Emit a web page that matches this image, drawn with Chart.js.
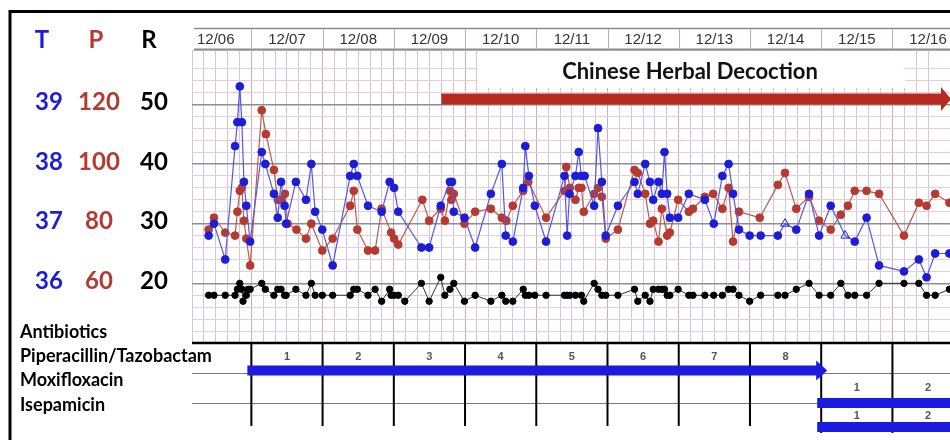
<!DOCTYPE html>
<html>
<head>
<meta charset="utf-8">
<script src="https://cdn.jsdelivr.net/npm/chart.js@4.4.1/dist/chart.umd.min.js"></script>
<style>
  html, body { margin: 0; padding: 0; background: #fff; }
  canvas { display: block; }
</style>
</head>
<body>
<canvas id="vitals" width="950" height="440"></canvas>
<script>
// time axis is in hours counted from 12/06 00:00
const dates = ['12/06', '12/07', '12/08', '12/09', '12/10', '12/11', '12/12', '12/13', '12/14', '12/15', '12/16'];
const tTicks = [39, 38, 37, 36];
const pTicks = [120, 100, 80, 60];
const rTicks = [50, 40, 30, 20];

// temperature (blue)
const tTime = [9.6, 11.4, 15.2, 18.5, 19.3, 20.1, 20.8, 21.5, 22.3, 23.6,
  27.5, 28.7, 31.6, 32.9, 34.0, 35.2, 35.7, 39.0, 42.4, 44.2,
  45.5, 47.9, 51.4, 57.3, 58.5, 59.7, 63.3, 67.9, 70.6, 72.1,
  73.5, 81.3, 83.9, 87.8, 90.9, 91.6, 92.2, 95.8, 99.4, 104.7,
  108.4, 109.7, 112.1, 115.6, 116.3, 117.5, 119.5, 123.3, 129.5, 130.4,
  131.2, 133.2, 134.3, 135.2, 136.3, 139.5, 140.8, 142.1, 143.4, 147.5,
  153.1, 154.2, 156.7, 158.3, 159.4, 161.2, 162.3, 163.2, 164.1, 165.0,
  167.8, 171.4, 176.8, 179.8, 182.7, 184.8, 186.3, 188.3, 191.9, 195.6,
  201.4, 203.8, 207.6, 211.9, 215.3, 219.2, 224.1, 227.3, 231.3, 235.5,
  243.9, 248.9, 251.5, 254.4, 259.2];
const tTemp = [36.8, 37.0, 36.4, 38.3, 38.7, 39.3, 38.7, 37.7, 37.3, 36.7,
  38.2, 38.0, 37.5, 37.1, 37.7, 37.3, 37.0, 37.7, 37.4, 38.0,
  37.2, 36.9, 36.3, 37.8, 38.0, 37.8, 37.3, 37.2, 37.7, 37.6,
  37.2, 36.6, 36.6, 37.3, 37.7, 37.7, 37.2, 37.1, 36.6, 37.5,
  38.0, 36.8, 36.7, 37.6, 38.3, 37.8, 37.3, 36.7, 37.8, 36.8,
  37.5, 37.8, 38.2, 37.8, 37.8, 37.3, 38.6, 37.7, 36.8, 37.3,
  37.7, 37.5, 38.0, 37.7, 37.4, 37.7, 37.5, 38.2, 37.5, 37.1,
  37.1, 37.5, 37.4, 37.0, 37.8, 38.0, 37.5, 36.9, 36.8, 36.8,
  36.8, 37.0, 36.9, 37.5, 36.8, 37.3, 36.8, 36.7, 37.1, 36.3,
  36.2, 36.4, 36.1, 36.5, 36.5];
// readings drawn as open triangles
const tOpenMarks = [203.8, 224.1];

// pulse (red)
const pTime = [9.6, 11.4, 15.2, 18.5, 19.3, 20.1, 20.8, 21.5, 22.3, 23.6,
  27.5, 28.9, 31.6, 32.9, 34.0, 35.3, 36.2, 39.2, 42.4, 44.2,
  47.9, 51.4, 57.3, 58.5, 59.7, 63.3, 65.7, 67.9, 71.1, 72.1,
  73.5, 81.6, 83.9, 87.8, 89.2, 90.9, 91.4, 92.2, 95.8, 99.4,
  104.7, 108.4, 109.9, 112.1, 115.6, 117.3, 123.3, 129.5, 130.1, 131.3,
  133.2, 134.3, 135.2, 136.0, 139.5, 140.8, 142.1, 143.4, 147.5, 153.1,
  154.2, 156.7, 158.3, 159.4, 161.2, 162.3, 164.1, 165.0, 167.8, 171.4,
  172.8, 176.8, 179.6, 182.7, 184.8, 186.3, 188.3, 195.3, 201.4, 203.8,
  207.6, 211.9, 215.3, 219.2, 222.6, 225.0, 227.3, 231.3, 235.5, 243.9,
  248.9, 251.5, 254.4, 259.2];
const pRate = [78, 82, 77, 76, 84, 91, 92, 81, 75, 66,
  118, 110, 98, 88, 88, 90, 80, 78, 75, 80,
  71, 75, 86, 91, 78, 71, 71, 85, 77, 75,
  73, 88, 81, 85, 81, 91, 88, 90, 80, 84,
  85, 82, 81, 86, 91, 94, 82, 91, 99, 92,
  88, 92, 92, 84, 90, 92, 89, 75, 78, 98,
  97, 90, 80, 81, 74, 85, 76, 77, 88, 84,
  85, 89, 90, 85, 92, 74, 84, 82, 93, 97,
  85, 89, 81, 78, 83, 86, 91, 91, 90, 76,
  87, 86, 90, 87];

// respiration (black)
const rTime = [9.6, 11.4, 15.2, 18.5, 19.3, 20.1, 20.8, 21.2, 22.3, 22.9,
  23.6, 27.5, 28.7, 31.6, 32.9, 34.0, 35.2, 35.7, 39.0, 42.4,
  44.2, 45.5, 47.9, 51.4, 57.3, 58.5, 59.7, 63.3, 65.7, 67.9,
  70.6, 71.1, 72.1, 73.5, 75.7, 81.3, 83.9, 87.8, 89.2, 90.9,
  92.2, 95.8, 99.4, 104.7, 108.4, 109.7, 112.1, 115.6, 116.3, 117.5,
  119.5, 123.3, 129.5, 130.4, 131.3, 133.2, 135.2, 136.0, 139.5, 140.8,
  142.1, 143.4, 147.5, 153.1, 154.2, 156.7, 158.3, 159.4, 161.2, 162.3,
  163.2, 164.1, 165.0, 167.8, 171.4, 172.8, 176.8, 179.8, 182.7, 184.8,
  186.3, 188.3, 191.9, 195.6, 201.4, 203.8, 207.6, 211.9, 215.3, 219.2,
  222.6, 225.0, 227.3, 231.3, 235.5, 243.9, 248.9, 251.5, 254.4, 259.2];
const rRate = [18, 18, 18, 18, 19, 20, 19, 17, 18, 19,
  19, 20, 19, 18, 19, 19, 18, 18, 19, 18,
  20, 18, 18, 18, 18, 19, 19, 18, 19, 17,
  19, 18, 18, 18, 17, 20, 17, 21, 18, 19,
  20, 17, 18, 17, 18, 17, 17, 19, 18, 18,
  18, 18, 18, 18, 18, 18, 18, 17, 20, 19,
  18, 18, 18, 19, 17, 18, 17, 19, 19, 19,
  19, 18, 18, 19, 18, 18, 18, 18, 18, 19,
  19, 18, 17, 18, 18, 18, 19, 20, 18, 18,
  20, 18, 18, 18, 20, 20, 20, 18, 18, 19];

// treatments
const herbStart = 88; // decoction from 12/09 16:00 on
const drugNames = ['Piperacillin/Tazobactam', 'Moxifloxacin', 'Isepamicin'];
const drugFirstDay = [1, 9, 9]; // index into dates
const drugDays = [8, 2, 2];

// all three series share one grid: 39 C = 120 bpm = 50 /min, 1 C = 20 bpm = 10 /min
const rMin = 10, rMax = 59.1;
const toT = r => 39 + (r - 50) / 10;
const toP = r => 120 + (r - 50) * 2;

const blue = '#1d1dd8', red = '#b63a2f';

function line(ctx, x1, y1, x2, y2) {
  ctx.beginPath(); ctx.moveTo(x1, y1); ctx.lineTo(x2, y2); ctx.stroke();
}

const sheet = {
  id: 'sheet',
  beforeDatasetsDraw(chart) {
    const { ctx, chartArea: a, scales: { x } } = chart;
    ctx.save();
    // label box over the grid
    ctx.fillStyle = '#fff';
    ctx.fillRect(478, a.top + 1, 427, 37);
    ctx.fillStyle = '#111';
    ctx.font = 'bold 22px Lato';
    ctx.textAlign = 'center';
    ctx.textBaseline = 'middle';
    ctx.fillText('Chinese Herbal Decoction', 690, 72);
    // herbal arrow
    const x0 = x.getPixelForValue(herbStart), yc = 99;
    ctx.fillStyle = '#b8291f';
    ctx.fillRect(x0, yc - 5.5, a.right - 8 - x0, 11);
    ctx.beginPath();
    ctx.moveTo(a.right - 9, yc - 12);
    ctx.lineTo(a.right + 1, yc);
    ctx.lineTo(a.right - 9, yc + 12);
    ctx.closePath();
    ctx.fill();
    ctx.restore();
  },
  afterDraw(chart) {
    const { ctx, chartArea: a, scales: { x, y } } = chart;
    ctx.save();

    // date header
    ctx.strokeStyle = '#8c8c8c';
    ctx.lineWidth = 1.5;
    line(ctx, a.left + 2, 28.5, a.right, 28.5);
    ctx.lineWidth = 2;
    line(ctx, a.left + 2, 49.5, a.right, 49.5);
    ctx.strokeStyle = '#c9a6b6';
    ctx.lineWidth = 1;
    for (let d = 1; d < dates.length; d++) {
      const xd = Math.round(x.getPixelForValue(d * 24)) + 0.5;
      line(ctx, xd, 29, xd, 49);
    }
    ctx.fillStyle = '#333';
    ctx.font = '15px "Liberation Sans"';
    ctx.textAlign = 'center';
    ctx.textBaseline = 'middle';
    dates.forEach((d, i) => ctx.fillText(d, x.getPixelForValue(i * 24 + 12), 40));

    // T / P / R legend column
    ctx.font = 'bold 24px Lato';
    ctx.fillStyle = blue; ctx.fillText('T', 42, 40);
    ctx.fillStyle = red; ctx.fillText('P', 96, 40);
    ctx.fillStyle = '#000'; ctx.fillText('R', 149, 40);
    rTicks.forEach((r, i) => {
      const py = y.getPixelForValue(r) - 2;
      ctx.fillStyle = blue; ctx.fillText(tTicks[i], 49, py);
      ctx.fillStyle = red; ctx.fillText(pTicks[i], 99, py);
      ctx.fillStyle = '#000'; ctx.fillText(r, 154, py);
    });

    // antibiotics table
    ctx.strokeStyle = '#000';
    ctx.lineWidth = 2.5;
    line(ctx, a.left, 343, a.right, 343);
    ctx.strokeStyle = '#7a7a7a';
    ctx.lineWidth = 1.2;
    line(ctx, a.left, 373.5, a.right, 373.5);
    line(ctx, a.left, 403.5, a.right, 403.5);
    ctx.strokeStyle = '#000';
    ctx.lineWidth = 2;
    for (let d = 1; d < dates.length; d++) {
      const xd = x.getPixelForValue(d * 24);
      line(ctx, xd, 343, xd, d >= 9 ? 433 : 426);
    }

    ctx.textAlign = 'left';
    ctx.textBaseline = 'middle';
    ctx.fillStyle = '#000';
    ctx.font = 'bold 18px Lato';
    ctx.fillText('Antibiotics', 20, 332);
    drugNames.forEach((n, i) => ctx.fillText(n, 20, 356 + i * 24.5));

    const numY = [357, 388, 416];
    const barY = [370.5, 403, 427];
    drugNames.forEach((n, i) => {
      ctx.fillStyle = '#555';
      ctx.font = 'bold 11px "Liberation Sans"';
      ctx.textAlign = 'center';
      for (let k = 0; k < drugDays[i]; k++) {
        const dc = (drugFirstDay[i] + k) * 24 + 12;
        ctx.fillText(String(k + 1), x.getPixelForValue(dc), numY[i]);
      }
      ctx.fillStyle = '#1a1ae0';
      const xs = x.getPixelForValue(drugFirstDay[i] * 24) - 4;
      const xe = x.getPixelForValue((drugFirstDay[i] + drugDays[i]) * 24);
      if (xe < a.right) {
        // course finished: arrow head at the end
        ctx.fillRect(xs, barY[i] - 5, xe - 4 - xs, 10);
        ctx.beginPath();
        ctx.moveTo(xe - 5, barY[i] - 10);
        ctx.lineTo(xe + 6, barY[i]);
        ctx.lineTo(xe - 5, barY[i] + 10);
        ctx.closePath();
        ctx.fill();
      } else {
        ctx.fillRect(xs, barY[i] - 5, a.right - xs, 10);
      }
    });

    // outer frame
    ctx.strokeStyle = '#000';
    ctx.lineWidth = 3;
    ctx.strokeRect(10, 11.5, 980, 460);
    ctx.restore();
  }
};

const xy = (xs, ys) => xs.map((v, i) => ({ x: v, y: ys[i] }));
const isOpen = c => tOpenMarks.includes(tTime[c.dataIndex]);

new Chart(document.getElementById('vitals'), {
  type: 'line',
  data: {
    datasets: [
      {
        label: 'T',
        yAxisID: 'yT',
        data: xy(tTime, tTemp),
        borderColor: '#5656e2',
        borderWidth: 1.2,
        pointRadius: c => isOpen(c) ? 5 : 3.9,
        pointStyle: c => isOpen(c) ? 'triangle' : 'circle',
        pointBackgroundColor: c => isOpen(c) ? 'rgba(255,255,255,0)' : blue,
        pointBorderColor: blue,
        pointBorderWidth: 1,
        order: 1
      },
      {
        label: 'P',
        yAxisID: 'yP',
        data: xy(pTime, pRate),
        borderColor: '#bd5a4e',
        borderWidth: 1.2,
        pointRadius: 3.9,
        pointBackgroundColor: red,
        pointBorderColor: red,
        pointBorderWidth: 1,
        order: 2
      },
      {
        label: 'R',
        yAxisID: 'y',
        data: xy(rTime, rRate),
        borderColor: '#333',
        borderWidth: 1,
        pointRadius: 3.2,
        pointBackgroundColor: '#000',
        pointBorderColor: '#000',
        pointBorderWidth: 1,
        order: 3
      }
    ]
  },
  options: {
    responsive: false,
    animation: false,
    layout: { autoPadding: false, padding: { left: 192, top: 50, right: 0, bottom: 97 } },
    plugins: { legend: { display: false }, tooltip: { enabled: false } },
    scales: {
      x: {
        type: 'linear',
        min: 4,
        max: 259.4,
        ticks: { display: false, stepSize: 4 },
        border: { display: false },
        grid: {
          drawTicks: false,
          color: c => c.tick.value % 24 === 0 ? '#d3a9bb' : '#cbc6ee',
          lineWidth: 1
        }
      },
      y: {
        min: rMin,
        max: rMax,
        ticks: { display: false, stepSize: 2 },
        border: { display: false },
        grid: {
          drawTicks: false,
          color: c => c.tick.value % 10 === 0 ? '#8e8e8e' : '#eccbd3',
          lineWidth: c => c.tick.value % 10 === 0 ? 1.5 : 1
        }
      },
      yT: { display: false, min: toT(rMin), max: toT(rMax) },
      yP: { display: false, min: toP(rMin), max: toP(rMax) }
    }
  },
  plugins: [sheet]
});
</script>
</body>
</html>
